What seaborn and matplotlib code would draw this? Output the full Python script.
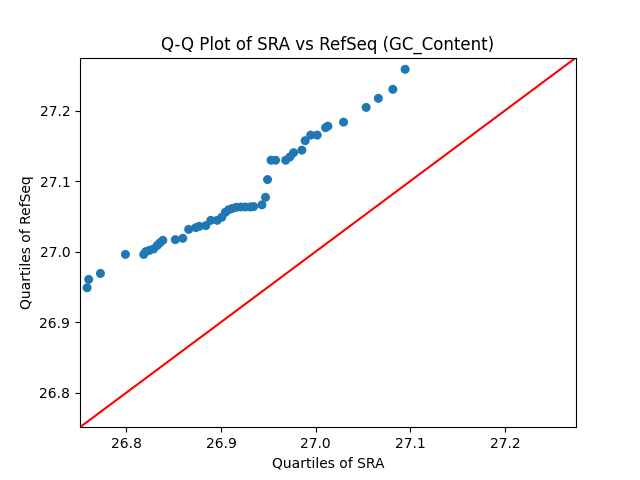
"""
Q-Q plot of GC content quantiles: SRA vs RefSeq.
"""

import matplotlib
matplotlib.use("Agg")

import matplotlib.pyplot as plt
import pandas as pd
import seaborn as sns

# quantiles
sra_quantiles = [
    26.7585, 26.7602, 26.7726, 26.7990, 26.8183, 26.8206, 26.8243, 26.8288,
    26.8327, 26.8354, 26.8385, 26.8517, 26.8596, 26.8658, 26.8734, 26.8770,
    26.8839, 26.8892, 26.8960, 26.9008, 26.9045, 26.9080, 26.9116, 26.9161,
    26.9208, 26.9256, 26.9309, 26.9344, 26.9432, 26.9470, 26.9491, 26.9528,
    26.9576, 26.9683, 26.9728, 26.9766, 26.9854, 26.9889, 26.9947, 27.0016,
    27.0104, 27.0129, 27.0294, 27.0533, 27.0662, 27.0815, 27.0945,
]
refseq_quantiles = [
    26.9487, 26.9605, 26.9690, 26.9960, 26.9960, 27.0000, 27.0017, 27.0038,
    27.0088, 27.0124, 27.0159, 27.0169, 27.0188, 27.0315, 27.0340, 27.0358,
    27.0368, 27.0443, 27.0443, 27.0486, 27.0557, 27.0592, 27.0610, 27.0628,
    27.0632, 27.0632, 27.0632, 27.0638, 27.0663, 27.0770, 27.1021, 27.1295,
    27.1295, 27.1295, 27.1342, 27.1402, 27.1438, 27.1572, 27.1651, 27.1651,
    27.1757, 27.1778, 27.1835, 27.2044, 27.2172, 27.2300, 27.2584,
]
axis_limits = [26.751, 27.275]

df = pd.DataFrame({"sra": sra_quantiles, "refseq": refseq_quantiles})

fig, ax = plt.subplots(figsize=(6.4, 4.8), dpi=100)

sns.scatterplot(data=df, x="sra", y="refseq", color="#1f77b4",
                s=42, edgecolor="none", ax=ax)
ax.plot(axis_limits, axis_limits, color="red", lw=1.5)

ax.set_xlim(axis_limits)
ax.set_ylim(axis_limits)
ax.set_xlabel("Quartiles of SRA")
ax.set_ylabel("Quartiles of RefSeq")
ax.set_title("Q-Q Plot of SRA vs RefSeq (GC_Content)")

fig.savefig("out.png", dpi=100)
plt.close(fig)
